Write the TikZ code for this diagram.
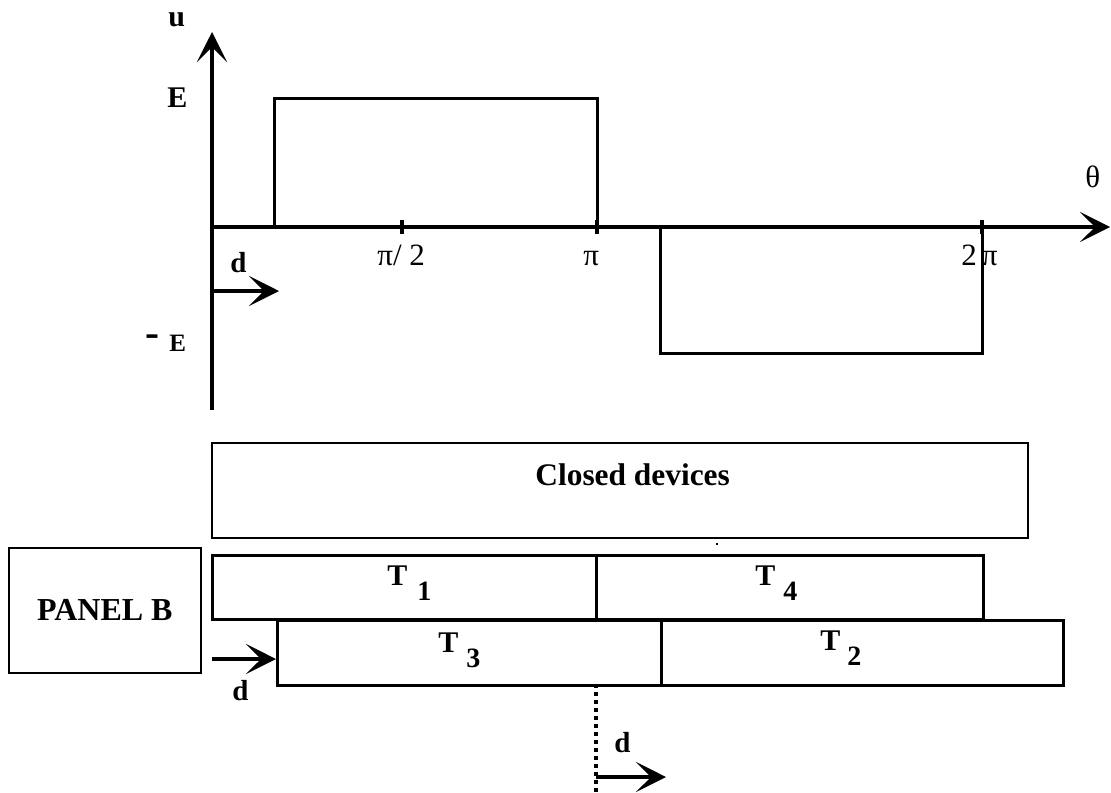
\documentclass[tikz,border=0pt]{standalone}
\usepackage{fontspec}
\setmainfont{Liberation Serif}
\usetikzlibrary{arrows.meta}
\begin{document}
\begin{tikzpicture}[x=0.5pt,y=-0.5pt,
  axis/.style={line width=1.7pt},
  arr/.style={-{Stealth[length=15pt 0,width=15pt 0,inset=7.5pt 0]}},
  pulse/.style={line width=1.5pt},
  thinbox/.style={draw,line width=0.9pt},
  tbox/.style={draw,line width=1.7pt},
  tick/.style={line width=2pt},
  blbl/.style={font=\fontsize{15}{17}\selectfont\bfseries,inner sep=0pt},
  dlbl/.style={font=\fontsize{14.5}{16}\selectfont\bfseries,inner sep=0pt},
  mlbl/.style={font=\fontsize{15.5}{18}\selectfont,inner sep=0pt},
  tlbl/.style={font=\fontsize{15}{18}\selectfont\bfseries,inner sep=0pt,anchor=base west},
  dots/.style={line width=2pt,dash pattern=on 2pt off 2pt}
]
\useasboundingbox (0,0) rectangle (1111,792);
\newcommand{\subnum}[1]{\raisebox{-7.5pt}{\fontsize{14}{16}\selectfont #1}}

% axes
\coordinate (ybot) at (212,410);
\coordinate (ytop) at (212,32);
\coordinate (O) at (212,227);
\coordinate (xend) at (1110,227);
\draw[axis,arr] (ybot) -- (ytop);
\draw[axis,arr] (O) -- (xend);

% ticks
\draw[tick] (402,220) -- (402,234);
\draw[tick] (597,220) -- (597,234);
\draw[tick] (982,220) -- (982,234);

% pulses
\draw[pulse] (274,227) -- (274,98) -- (597,98) -- (597,227);
\draw[pulse] (660,227) -- (660,353) -- (982,353) -- (982,227);

% axis labels
\node[blbl,anchor=base west] (u) at (168,27) {u};
\node[blbl,anchor=base west] (E) at (167,107) {E};
\node[blbl,anchor=base west,font=\fontsize{12.5}{15}\selectfont\bfseries] (mE) at (145,351) {\raisebox{2.5pt}{\fontsize{21}{21}\selectfont -}\hspace{5pt}E};
\node[mlbl,anchor=base west] (pi2) at (377,265) {π/ 2};
\node[mlbl,anchor=base west] (pi) at (583,265) {π};
\node[mlbl,anchor=base west] (tpi) at (961,265) {2\hspace{2.5pt}π};
\node[mlbl,anchor=base west] (th) at (1085,187) {θ};

% d arrow (top)
\coordinate (d1a) at (212,291);
\coordinate (d1b) at (279,291);
\draw[axis,arr] (d1a) -- (d1b);
\node[dlbl,anchor=base west] (d1) at (230,272) {d};

% closed devices
\node[thinbox,minimum width=408pt,minimum height=47.5pt,anchor=north west] (cd) at (211,442) {};
\node[font=\fontsize{15.7}{18}\selectfont\bfseries,inner sep=0pt,anchor=base west] (cdt) at (535,485) {Closed devices};
\fill (716,543) rectangle (718,545);

% T rows
\node[tbox,minimum width=192pt,minimum height=32pt,anchor=north west,inner sep=0pt] (T1) at (211,554) {};
\node[tbox,minimum width=193.5pt,minimum height=32pt,anchor=north west,inner sep=0pt] (T4) at (595,554) {};
\node[tbox,minimum width=192pt,minimum height=32.5pt,anchor=north west,inner sep=0pt] (T3) at (276,619) {};
\node[tbox,minimum width=201pt,minimum height=32.5pt,anchor=north west,inner sep=0pt] (T2) at (660,619) {};
\node[tlbl] (t1) at (387,585) {T\hspace{5pt}\subnum{1}};
\node[tlbl] (t4) at (755,585) {T\hspace{4pt}\subnum{4}};
\node[tlbl] (t3) at (438,652) {T\hspace{4pt}\subnum{3}};
\node[tlbl] (t2) at (820,650) {T\hspace{3.5pt}\subnum{2}};

% panel B
\node[thinbox,minimum width=96pt,minimum height=62.5pt,anchor=north west] (pb) at (8,547) {};
\node[font=\fontsize{16}{19}\selectfont\bfseries,inner sep=0pt] (pbt) at (pb.center) {PANEL B};

% d arrow (middle)
\coordinate (d2a) at (212,659);
\draw[axis,arr] (d2a) -- (T3.west |- d2a);
\node[dlbl,anchor=base west] (d2) at (232,700) {d};

% dotted line and bottom d arrow
\coordinate (dtop) at (596,684);
\coordinate (dotb) at (596,792);
\draw[dots] (dtop) -- (dotb);
\coordinate (d3a) at (596,777);
\coordinate (d3b) at (666,777);
\draw[axis,arr] (d3a) -- (d3b);
\node[dlbl,anchor=base west] (d3) at (614,752) {d};
\end{tikzpicture}
\end{document}
